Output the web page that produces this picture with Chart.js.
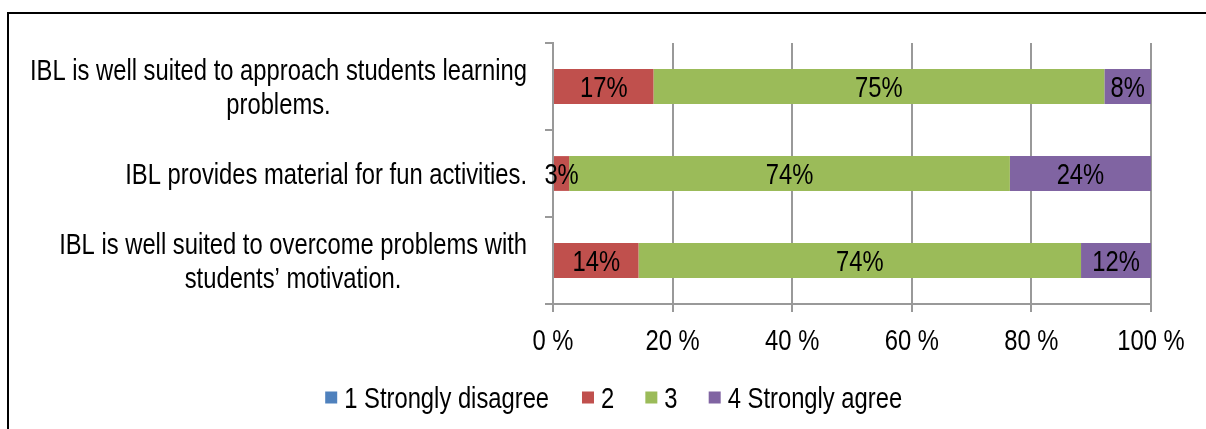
<!DOCTYPE html>
<html>
<head>
<meta charset="utf-8">
<title>IBL survey</title>
<script src="https://cdn.jsdelivr.net/npm/chart.js"></script>
<style>
  body { margin: 0; background: #fff; }
  #frame { position: absolute; left: 7px; top: 12px; width: 1220px; height: 440px; border: 2px solid #000; }
  #wrap { position: absolute; left: 0; top: 0; width: 1206px; height: 429px; }
</style>
</head>
<body>
<div id="frame"></div>
<div id="wrap"><canvas id="surveyChart" width="1206" height="429"></canvas></div>

<script>
const categories = [
  ['IBL is well suited to approach students learning', 'problems.'],
  ['IBL provides material for fun activities.'],
  ['IBL is well suited to overcome problems with', 'students\u2019 motivation.']
];
const seriesNames = ['1 Strongly disagree', '2', '3', '4 Strongly agree'];
const stronglyDisagree = [0, 0, 0];
const rating2 = [16.8, 2.7, 14.3];
const rating3 = [75.4, 73.7, 74.0];
const stronglyAgree = [7.8, 23.6, 11.7];
const xTicks = [0, 20, 40, 60, 80, 100];

const FONT = '"Liberation Sans", Arial, sans-serif';
const colors = ['#4F81BD', '#C0504D', '#9BBB59', '#8064A2'];
const NARROW = 0.82;   // Arial Narrow is Arial squeezed to 82 %
const LEFT_PAD = 83;

// draw text squeezed horizontally, so it looks like a narrow face
function narrowText(ctx, text, x, y, align) {
    ctx.save();
    ctx.translate(x, y);
    ctx.scale(NARROW, 1);
    ctx.textAlign = align;
    ctx.fillText(text, 0, 0);
    ctx.restore();
}

// value labels in the middle of each segment
const valueLabels = {
    id: 'valueLabels',
    afterDatasetsDraw(chart) {
        const ctx = chart.ctx;
        ctx.save();
        ctx.font = '29px ' + FONT;
        ctx.fillStyle = '#000';
        ctx.textBaseline = 'alphabetic';
        chart.data.datasets.forEach((ds, i) => {
            chart.getDatasetMeta(i).data.forEach((bar, j) => {
                const v = ds.data[j];
                if (!v) return;
                narrowText(ctx, Math.round(v) + '%', (bar.x + bar.base) / 2, bar.y + 10, 'center');
            });
        });
        ctx.restore();
    }
};

// category labels (lines centred on each other), x tick labels, legend texts
const narrowTexts = {
    id: 'narrowTexts',
    afterDraw(chart) {
        const ctx = chart.ctx;
        const ys = chart.scales.y;
        const xs = chart.scales.x;
        const right = chart.chartArea.left - 26;
        ctx.save();
        ctx.font = '29px ' + FONT;
        ctx.fillStyle = '#000';
        ctx.textBaseline = 'alphabetic';
        categories.forEach((lines, i) => {
            const w = Math.max(...lines.map(l => ctx.measureText(l).width)) * NARROW;
            const cx = right - w / 2;
            const cy = ys.getPixelForTick(i);
            lines.forEach((l, k) => {
                narrowText(ctx, l, cx, cy + 10 + (k - (lines.length - 1) / 2) * 34, 'center');
            });
        });
        xTicks.forEach(v => {
            narrowText(ctx, v + ' %', xs.getPixelForValue(v), chart.chartArea.bottom + 46, 'center');
        });
        // legend: the library places boxes, the text goes next to them
        chart.legend.legendItems.forEach((item, i) => {
            const hb = chart.legend.legendHitBoxes[i];
            narrowText(ctx, item.text, hb.left + 19, hb.top + hb.height / 2 + 10, 'left');
        });
        ctx.restore();
    }
};

function draw() {
    const ctx = document.getElementById('surveyChart').getContext('2d');
    new Chart(ctx, {
        type: 'bar',
        data: {
            labels: categories.map(c => c.join(' ')),
            datasets: [
                { label: seriesNames[0], data: stronglyDisagree, backgroundColor: colors[0] },
                { label: seriesNames[1], data: rating2, backgroundColor: colors[1] },
                { label: seriesNames[2], data: rating3, backgroundColor: colors[2] },
                { label: seriesNames[3], data: stronglyAgree, backgroundColor: colors[3] }
            ]
        },
        options: {
            indexAxis: 'y',
            responsive: false,
            animation: false,
            datasets: { bar: { barPercentage: 0.4, categoryPercentage: 1, borderWidth: 0 } },
            layout: { padding: { top: 43, right: 55, bottom: 9.5, left: LEFT_PAD } },
            scales: {
                x: {
                    stacked: true,
                    min: 0,
                    max: 100,
                    afterBuildTicks: s => { s.ticks = xTicks.map(v => ({ value: v })); },
                    afterFit: s => { s.height = 55.5; },
                    ticks: { display: false },
                    grid: { color: '#999', lineWidth: 2, tickLength: 8 },
                    border: { color: '#999', width: 2 }
                },
                y: {
                    stacked: true,
                    afterFit: s => { s.width = 553 - LEFT_PAD; },
                    ticks: { display: false },
                    grid: { drawOnChartArea: false, color: '#999', lineWidth: 2, tickLength: 8 },
                    border: { color: '#999', width: 2 }
                }
            },
            plugins: {
                legend: {
                    position: 'bottom',
                    labels: {
                        boxWidth: 12,
                        boxHeight: 12,
                        padding: 26,
                        color: 'rgba(0,0,0,0)',
                        font: { family: FONT, size: 24 }
                    }
                },
                tooltip: { enabled: false }
            }
        },
        plugins: [valueLabels, narrowTexts]
    });
}

document.fonts.load('29px "Liberation Sans"').then(draw, draw);
</script>
</body>
</html>
